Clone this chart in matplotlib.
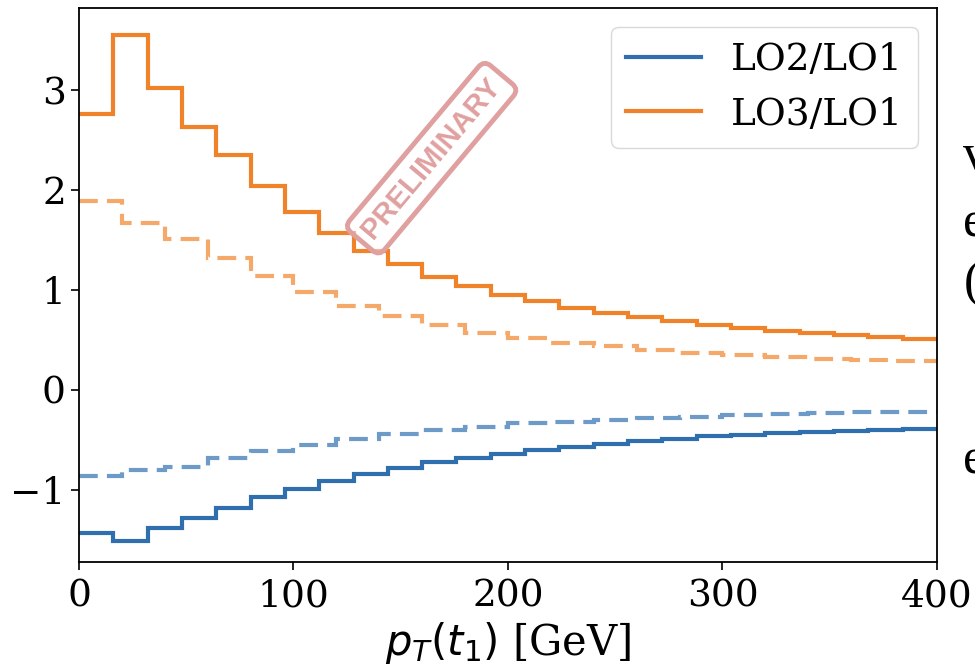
import numpy as np
import matplotlib
matplotlib.use("Agg")
import matplotlib.pyplot as plt

# bin edges (GeV)
edges_solid = np.arange(0, 401, 16)
edges_dashed = np.arange(0, 401, 20)

# solid histograms, 16 GeV bins
lo2_lo1 = [-1.43, -1.51, -1.38, -1.28, -1.18, -1.07, -0.99, -0.91, -0.84, -0.78,
           -0.72, -0.68, -0.64, -0.60, -0.57, -0.54, -0.51, -0.49, -0.46, -0.45,
           -0.43, -0.42, -0.41, -0.40, -0.39]
lo3_lo1 = [2.76, 3.55, 3.02, 2.63, 2.35, 2.04, 1.78, 1.57, 1.39, 1.26,
           1.13, 1.04, 0.95, 0.89, 0.82, 0.77, 0.73, 0.69, 0.65, 0.62,
           0.59, 0.57, 0.55, 0.53, 0.51]

# dashed histograms, 20 GeV bins
lo2_lo1_dash = [-0.86, -0.80, -0.77, -0.68, -0.61, -0.55, -0.49, -0.44, -0.40, -0.37,
                -0.33, -0.32, -0.30, -0.28, -0.27, -0.25, -0.24, -0.23, -0.22, -0.22]
lo3_lo1_dash = [1.89, 1.67, 1.51, 1.32, 1.14, 0.98, 0.84, 0.74, 0.65, 0.57,
                0.52, 0.47, 0.44, 0.40, 0.37, 0.35, 0.33, 0.31, 0.30, 0.29]

blue = "#2f6fae"
orange = "#f0832a"

plt.rcParams["font.family"] = ["DejaVu Serif"]
plt.rcParams["mathtext.fontset"] = "dejavusans"

fig = plt.figure(figsize=(9.75, 6.69), dpi=100)
ax = fig.add_axes([0.081, 0.160, 0.880, 0.828])

ax.stairs(lo2_lo1, edges_solid, color=blue, lw=3, label="LO2/LO1", baseline=None)
ax.stairs(lo3_lo1, edges_solid, color=orange, lw=3, label="LO3/LO1", baseline=None)
ax.stairs(lo2_lo1_dash, edges_dashed, color=blue, lw=3, ls=(0, (4.5, 2.2)),
          alpha=0.7, baseline=None)
ax.stairs(lo3_lo1_dash, edges_dashed, color=orange, lw=3, ls=(0, (4.5, 2.2)),
          alpha=0.7, baseline=None)

ax.set_xlim(0, 400)
ax.set_ylim(-1.72, 3.82)
ax.set_xticks([0, 100, 200, 300, 400])
ax.set_yticks([-1, 0, 1, 2, 3])
ax.tick_params(labelsize=27, length=6, width=1.2)
ax.tick_params(axis="x", pad=6)
for sp in ax.spines.values():
    sp.set_linewidth(1.3)
ax.set_xlabel(r"$p_T(t_1)$ [GeV]", fontsize=30, labelpad=4)

ax.legend(loc="upper right", fontsize=27, frameon=True, fancybox=True,
          edgecolor="#d0d0d0", handletextpad=0.8)

# watermark
ax.text(0.411, 0.729, "PRELIMINARY", transform=ax.transAxes, rotation=50,
        ha="center", va="center", fontsize=21, fontweight="bold",
        family=["Liberation Sans", "DejaVu Sans"], color="#e0a0a0",
        zorder=5,
        bbox=dict(boxstyle="round,pad=0.3", facecolor=(1, 1, 1, 0.45),
                  edgecolor="#e0a0a0", lw=3.5))

# clipped slide text at the right edge
for ch, yy in [("v", 0.765), ("e", 0.665), ("(", 0.575), ("e", 0.310)]:
    fig.text(0.988, yy, ch, fontsize=36, family="Liberation Serif",
             ha="left", va="center")

fig.savefig("out.png", dpi=100)
